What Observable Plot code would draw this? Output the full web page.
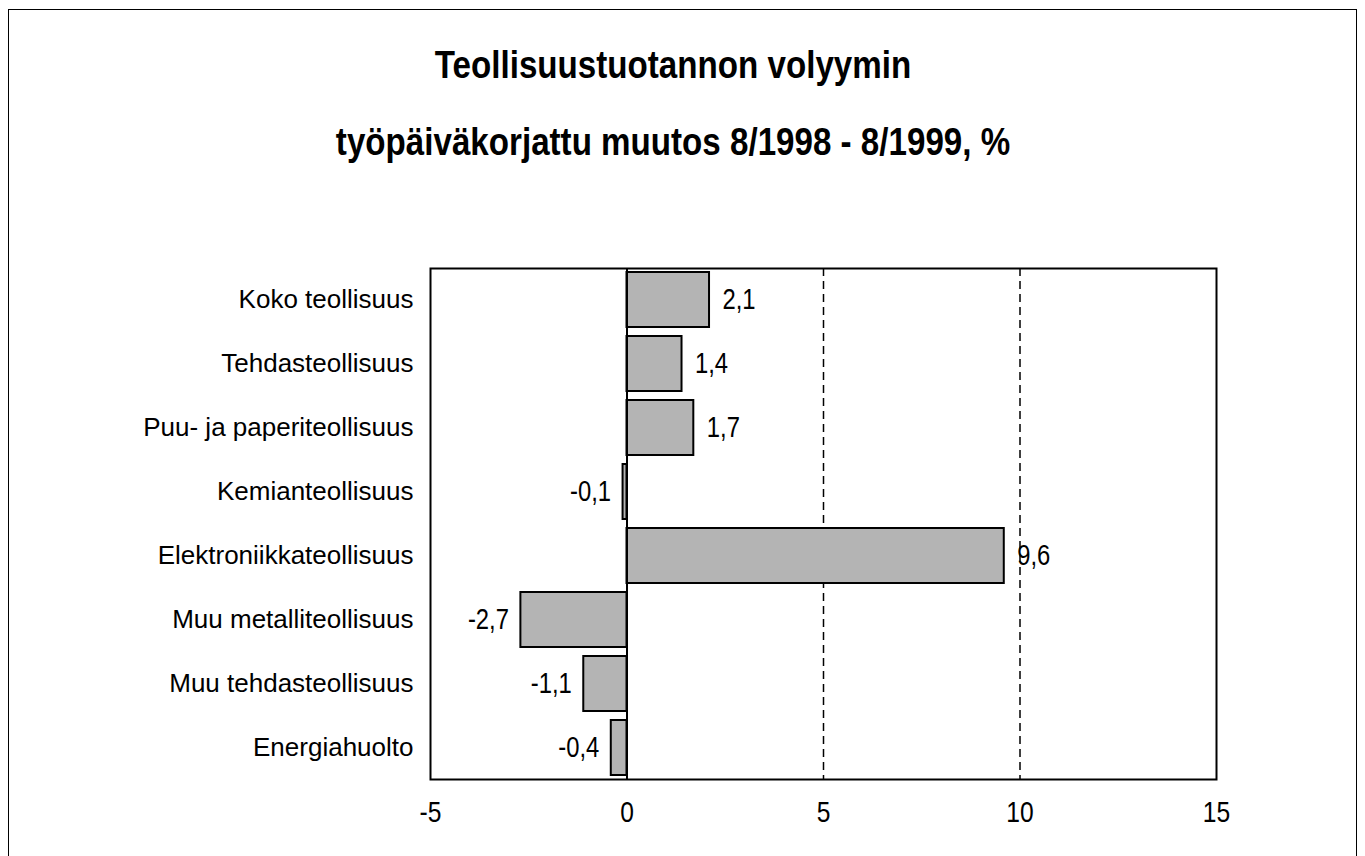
<!DOCTYPE html>
<html>
<head>
<meta charset="utf-8">
<script src="https://cdn.jsdelivr.net/npm/d3@7"></script>
<script src="https://cdn.jsdelivr.net/npm/@observablehq/plot@0.6"></script>
<style>
  html, body { margin: 0; padding: 0; background: #fff; overflow: hidden; }
  #wrap { position: relative; width: 1365px; height: 856px; overflow: hidden; }
  #border { position: absolute; left: 8px; top: 9px; width: 1349px; height: 900px; border: 1.5px solid #000; box-sizing: border-box; }
  #header { position: relative; width: 1365px; height: 200px; }
  .t { position: absolute; left: 0; width: 1346px; text-align: center; font-family: "Liberation Sans", Arial, sans-serif; font-weight: bold; font-size: 39px; line-height: 39px; color: #000; white-space: nowrap; transform: scaleX(0.85); transform-origin: 673px 0; }
  #chart svg { display: block; }
</style>
</head>
<body>
<div id="wrap">
  <div id="border"></div>
  <div id="header">
    <div class="t" style="top:45px">Teollisuustuotannon volyymin</div>
    <div class="t" style="top:122px">työpäiväkorjattu muutos 8/1998 - 8/1999, %</div>
  </div>
  <div id="chart"></div>
</div>
<script>
const categories = [
  "Koko teollisuus",
  "Tehdasteollisuus",
  "Puu- ja paperiteollisuus",
  "Kemianteollisuus",
  "Elektroniikkateollisuus",
  "Muu metalliteollisuus",
  "Muu tehdasteollisuus",
  "Energiahuolto"
];
const values = [2.1, 1.4, 1.7, -0.1, 9.6, -2.7, -1.1, -0.4];
const xTicks = [-5, 0, 5, 10, 15];
const gridValues = [5, 10];

const data = categories.map((c, i) => ({category: c, value: values[i]}));
const fmt = v => v.toFixed(1).replace(".", ",");

const chart = Plot.plot({
  width: 1365,
  height: 656,
  marginLeft: 430,
  marginRight: 149,
  marginTop: 68,
  marginBottom: 77,
  style: {fontFamily: '"Liberation Sans", Arial, sans-serif', fontSize: "26px", color: "#000", background: "transparent"},
  x: {domain: [-5, 15], ticks: xTicks},
  y: {domain: categories, paddingInner: 0.14, paddingOuter: 0.06},
  marks: [
    Plot.ruleX(gridValues, {stroke: "#000", strokeWidth: 1.5, strokeDasharray: "8,5"}),
    Plot.barX(data, {x1: 0, x2: "value", y: "category", fill: "#b4b4b4", stroke: "#000", strokeWidth: 2}),
    Plot.ruleX([0], {stroke: "#000", strokeWidth: 2}),
    Plot.text(data.filter(d => d.value >= 0), {x: "value", y: "category", text: d => fmt(d.value), dx: 13, textAnchor: "start", fontSize: 29, fill: "#000"}),
    Plot.text(data.filter(d => d.value < 0), {x: "value", y: "category", text: d => fmt(d.value), dx: -12, textAnchor: "end", fontSize: 29, fill: "#000"}),
    Plot.axisY({tickSize: 0, tickPadding: 17, label: null, fontSize: 26}),
    Plot.axisX({ticks: xTicks, tickSize: 0, tickPadding: 21, label: null, fontSize: 30, tickFormat: d => String(d)}),
    Plot.frame({stroke: "#000", strokeWidth: 2})
  ]
});

document.getElementById("chart").appendChild(chart);

// condense the value labels and x tick labels horizontally (narrow typeface in the original)
chart.querySelectorAll('g[aria-label="text"] text, g[aria-label="x-axis tick label"] text').forEach(t => {
  const L = t.getComputedTextLength();
  if (L > 0) {
    t.setAttribute("textLength", (L * 0.82).toFixed(2));
    t.setAttribute("lengthAdjust", "spacingAndGlyphs");
  }
});
</script>
</body>
</html>
